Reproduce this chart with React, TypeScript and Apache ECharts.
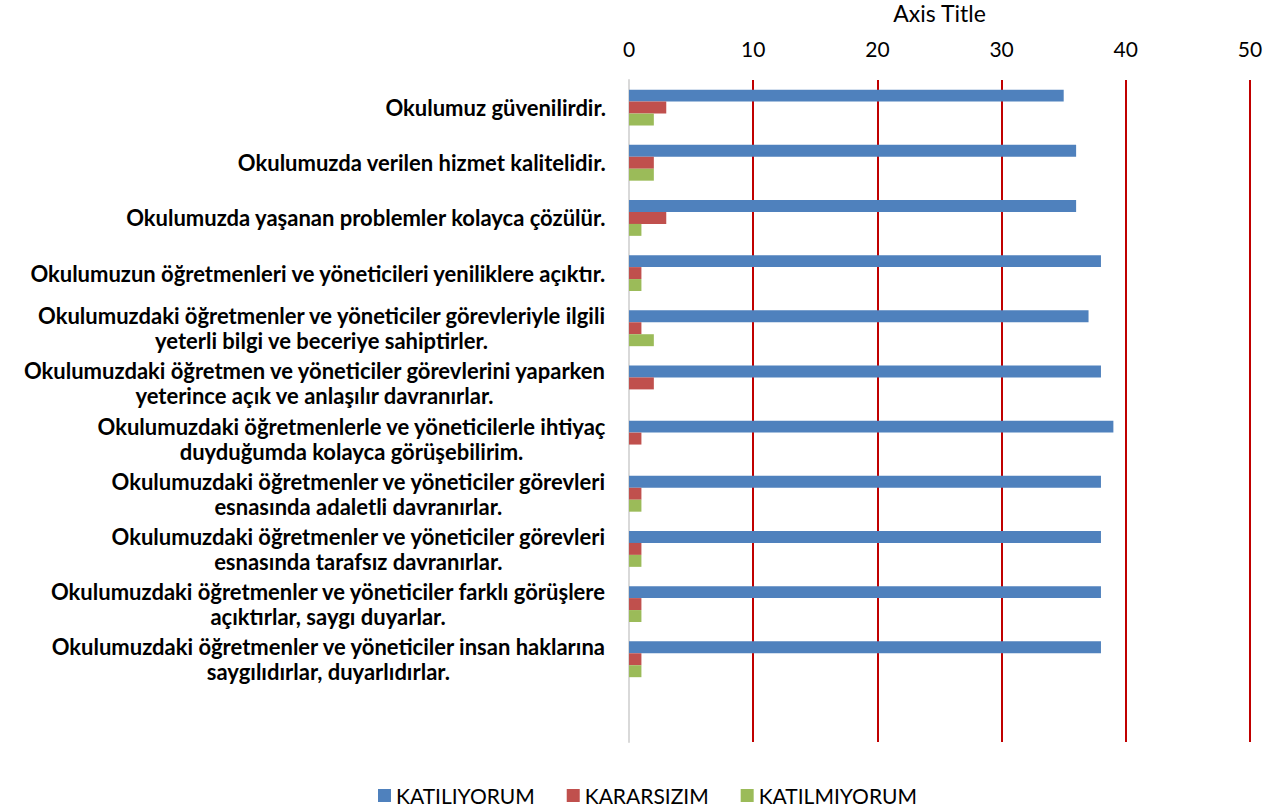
import React, { useEffect, useRef } from "react";
import * as echarts from "echarts";

const categories = [
  "Okulumuz güvenilirdir.",
  "Okulumuzda verilen hizmet kalitelidir.",
  "Okulumuzda yaşanan problemler kolayca çözülür.",
  "Okulumuzun öğretmenleri ve yöneticileri yeniliklere açıktır.",
  "Okulumuzdaki öğretmenler ve yöneticiler görevleriyle ilgili\nyeterli bilgi ve beceriye sahiptirler.",
  "Okulumuzdaki öğretmen ve yöneticiler görevlerini yaparken\nyeterince açık ve anlaşılır davranırlar.",
  "Okulumuzdaki öğretmenlerle ve yöneticilerle ihtiyaç\nduyduğumda kolayca görüşebilirim.",
  "Okulumuzdaki öğretmenler ve yöneticiler görevleri\nesnasında adaletli davranırlar.",
  "Okulumuzdaki öğretmenler ve yöneticiler görevleri\nesnasında tarafsız davranırlar.",
  "Okulumuzdaki öğretmenler ve yöneticiler farklı görüşlere\naçıktırlar, saygı duyarlar.",
  "Okulumuzdaki öğretmenler ve yöneticiler insan haklarına\nsaygılıdırlar, duyarlıdırlar.",
  "",
];

const katiliyorum = [35, 36, 36, 38, 37, 38, 39, 38, 38, 38, 38];
const kararsizim = [3, 2, 3, 1, 1, 2, 1, 1, 1, 1, 1];
const katilmiyorum = [2, 2, 1, 1, 2, 0, 0, 1, 1, 1, 1];

const seriesNames = ["KATILIYORUM", "KARARSIZIM", "KATILMIYORUM"];
const colors = ["#4F81BD", "#C0504D", "#9BBB59"];

const FONT = "Lato, 'Open Sans', sans-serif";

export default function App() {
  const ref = useRef<HTMLDivElement>(null);

  useEffect(() => {
    document.body.style.margin = "0";
    if (!ref.current) return;
    const chart = echarts.init(ref.current, undefined, { renderer: "svg" });
    const seriesData = [katiliyorum, kararsizim, katilmiyorum];
    chart.setOption({
      animation: false,
      textStyle: { fontFamily: FONT },
      color: colors,
      grid: {
        left: 629,
        right: 27,
        top: 80,
        bottom: 67,
        containLabel: false,
        outerBoundsMode: "none",
      },
      legend: {
        data: seriesNames,
        top: 780,
        left: 373,
        icon: "rect",
        itemWidth: 13,
        itemHeight: 13,
        itemGap: 32,
        textStyle: { fontSize: 21, color: "#000", fontFamily: FONT },
      },
      xAxis: {
        type: "value",
        position: "top",
        min: 0,
        max: 50,
        interval: 10,
        name: "Axis Title",
        nameLocation: "middle",
        nameGap: 56,
        nameTextStyle: { fontSize: 23, color: "#000", fontFamily: FONT },
        axisLine: { show: false },
        axisTick: { show: false },
        axisLabel: { fontSize: 21, color: "#000", margin: 21, fontFamily: FONT },
        splitLine: {
          show: true,
          showMinLine: false,
          lineStyle: { color: "#C00000", width: 2 },
        },
      },
      yAxis: {
        type: "category",
        inverse: true,
        data: categories,
        axisLine: { show: true, lineStyle: { color: "#D9D9D9", width: 2 } },
        axisTick: { show: false },
        splitLine: { show: false },
        axisLabel: {
          margin: 23,
          interval: 0,
          formatter: (v: string) =>
            v
              .split("\n")
              .map((l) => "{c|" + l + "}")
              .join("\n"),
          rich: {
            c: {
              align: "center",
              fontSize: 22,
              fontWeight: "bold",
              color: "#000",
              lineHeight: 25,
              fontFamily: FONT,
            },
          },
        },
      },
      series: seriesNames.map((name, i) => ({
        name,
        type: "bar",
        data: seriesData[i],
        barGap: "0%",
        barCategoryGap: "35%",
        itemStyle: { color: colors[i] },
      })),
    });
    return () => chart.dispose();
  }, []);

  return <div ref={ref} style={{ width: 1277, height: 809 }} />;
}
